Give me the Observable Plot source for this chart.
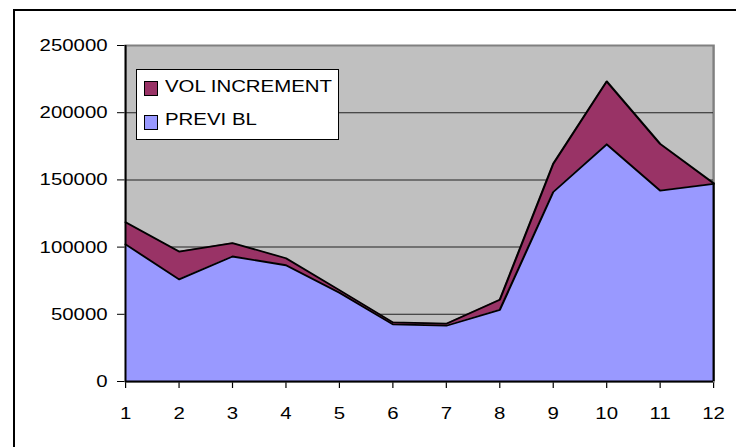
<!DOCTYPE html>
<html><head><meta charset="utf-8">
<script src="https://cdn.jsdelivr.net/npm/d3@7"></script>
<script src="https://cdn.jsdelivr.net/npm/@observablehq/plot@0.6"></script>
<style>
html,body{margin:0;padding:0;background:#fff;overflow:hidden;}
#wrap{position:relative;width:736px;height:447px;overflow:hidden;font-family:'Liberation Sans',Arial,sans-serif;}
#frame{position:absolute;left:13px;top:9px;width:800px;height:600px;border:2px solid #000;box-sizing:border-box;}
#chart{position:absolute;left:0;top:0;}
#legend{position:absolute;left:136px;top:69px;width:203px;height:71px;border:1px solid #000;background:#fff;box-sizing:border-box;}
.sw{position:absolute;width:14px;height:15px;border:1px solid #000;box-sizing:border-box;}
.lt{position:absolute;font-size:17px;line-height:17px;white-space:nowrap;transform:scaleX(1.2);transform-origin:left center;color:#000;}
</style>
</head><body>
<div id="wrap"><div id="frame"></div><div id="chart"></div><div id="legend"></div></div>
<script>
const months = [1,2,3,4,5,6,7,8,9,10,11,12];
const previBL = [102000, 76000, 93000, 86500, 66000, 42500, 41500, 53300, 141000, 176500, 142000, 147000];
const volIncrement = [16500, 20700, 10000, 5200, 2000, 1500, 1500, 7500, 21000, 46800, 34800, 500];
const seriesNames = ["PREVI BL", "VOL INCREMENT"];
const seriesColors = ["#9999FF", "#993366"];
const yTicks = [0, 50000, 100000, 150000, 200000, 250000];
const gridTicks = [50000, 100000, 150000, 200000];
const legendOrder = ["VOL INCREMENT", "PREVI BL"];

const rows = [];
months.forEach((m, i) => {
  rows.push({month: m, series: seriesNames[0], value: previBL[i]});
  rows.push({month: m, series: seriesNames[1], value: volIncrement[i]});
});

const s = 1.2;
const W = 736 / s;
const svg = Plot.plot({
  width: W, height: 447,
  marginLeft: 125 / s, marginRight: 23 / s, marginTop: 45, marginBottom: 66,
  style: {fontFamily: "'Liberation Sans', Arial, sans-serif", fontSize: "17px", color: "#000", background: "transparent", overflow: "visible"},
  x: {domain: [1, 12], ticks: months, tickFormat: d => String(d), tickSize: 7, tickPadding: 18, label: null},
  y: {domain: [0, 250000], ticks: yTicks, tickFormat: d => String(d), tickSize: 8 / s, tickPadding: 10 / s, label: null},
  color: {domain: seriesNames, range: seriesColors},
  marks: [
    Plot.frame({fill: "#C0C0C0", stroke: "#808080", strokeWidth: 2}),
    Plot.ruleY(gridTicks, {stroke: "#222", strokeWidth: 1}),
    Plot.areaY(rows, {x: "month", y: "value", z: "series", fill: "series"}),
    Plot.lineY(rows, Plot.stackY2({x: "month", y: "value", z: "series", stroke: "#000", strokeWidth: 1.8})),
    Plot.ruleX(rows.filter(d => d.month === 12), Plot.stackY({x: "month", y: "value", z: "series", stroke: "#000", strokeWidth: 1.8})),
    Plot.ruleX([1], {stroke: "#000", strokeWidth: 1.5}),
    Plot.ruleY([0], {stroke: "#000", strokeWidth: 2.2})
  ]
});
svg.setAttribute("width", 736);
svg.setAttribute("height", 447);
svg.setAttribute("preserveAspectRatio", "none");
svg.style.maxWidth = "none";
svg.style.width = "736px";
svg.style.height = "447px";
document.getElementById("chart").appendChild(svg);

const legend = document.getElementById("legend");
const swTops = [11, 45], txtTops = [8, 41];
legendOrder.forEach((name, i) => {
  const sw = document.createElement("div");
  sw.className = "sw";
  sw.style.left = "7px";
  sw.style.top = swTops[i] + "px";
  sw.style.background = seriesColors[seriesNames.indexOf(name)];
  legend.appendChild(sw);
  const t = document.createElement("div");
  t.className = "lt";
  t.style.left = "28px";
  t.style.top = txtTops[i] + "px";
  t.textContent = name;
  legend.appendChild(t);
});
</script>
</body></html>
